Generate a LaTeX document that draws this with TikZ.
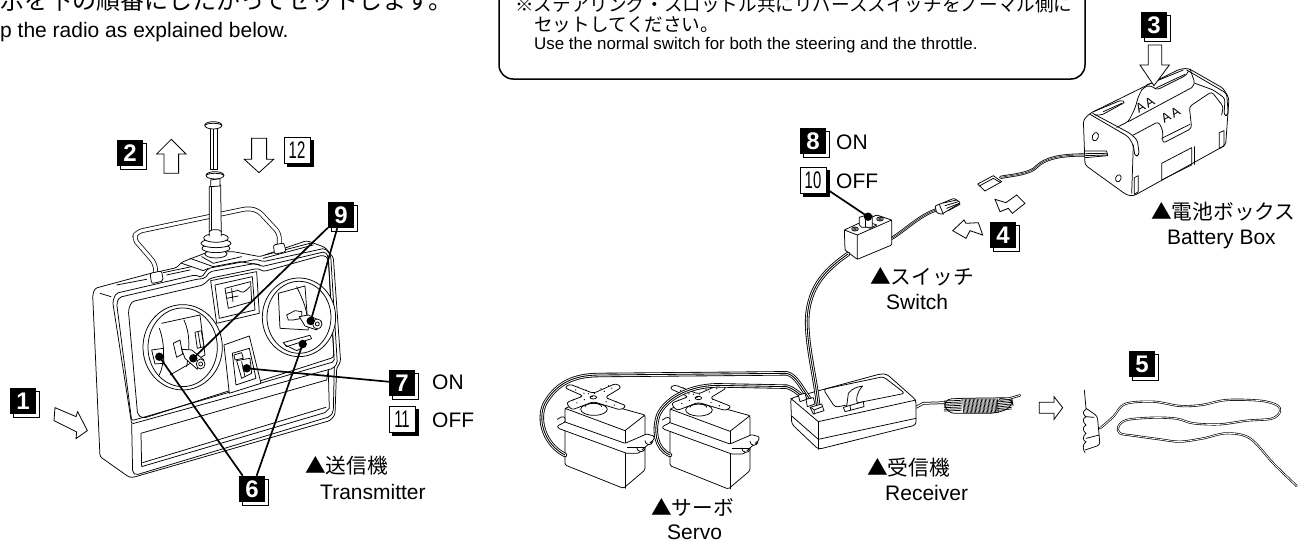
\documentclass[tikz,border=0pt]{standalone}
\usepackage{fontspec}
\usepackage{graphicx}
\setmainfont{Liberation Sans}
\newfontfamily\cjk{Noto Sans CJK JP}
\usetikzlibrary{shadows,calc}
\newcommand{\fsz}[1]{\fontsize{#1}{#1}\selectfont}
\newcommand{\nar}[1]{\scalebox{.62}[1]{#1}}
\tikzset{
 z/.style 2 args={shift={(#1,#2)},x=0.3333pt,y=-0.3333pt},
 ln/.style={line width=.75pt,line join=round,line cap=round},
 fl/.style={ln,fill=white},
 hollow/.style={line width=.8pt,fill=white,line join=miter},
 leader/.style={line width=1.7pt},
 dot/.style={fill=black},
 wire/.style={double=white,double distance=1.5pt,line width=.8pt,line cap=round,postaction={draw,double=none,line width=.5pt}},
 wiret/.style={double=white,double distance=2.7pt,line width=.85pt,line cap=round,postaction={draw,double=none,line width=.85pt}},
 bb/.style={fill=black,text=white,minimum width=26pt,minimum height=26pt,inner sep=0pt,font=\fsz{24}\bfseries,
   copy shadow={fill=white,draw=black,line width=.6pt,shadow xshift=3pt,shadow yshift=-3pt}},
 wb/.style={fill=white,draw=black,line width=.7pt,text=black,minimum width=26pt,minimum height=26pt,inner sep=0pt,font=\fsz{24},
   copy shadow={fill=black,draw=black,shadow xshift=3pt,shadow yshift=-3pt}},
 tx/.style={anchor=base west,inner sep=0pt,font=\fsz{21}},
 jp/.style={anchor=base west,inner sep=0pt,font=\cjk\fsz{20.7}},
 note/.style={line width=1.5pt,rounded corners=14pt,fill=white},
}
\newcommand{\servo}{%
  % body
  \draw[fl,rounded corners=1.5pt] (105,145)--(175,118)--(345,165)--(345,330)--(280,385)--(105,315)--cycle;
  \draw[ln] (105,145)--(285,212)--(345,165);
  \draw[ln] (285,212)--(285,385);
  % flange
  \draw[fl,rounded corners=1pt] (82,178)--(95,170)--(105,172)--(105,186)--(82,198)--(85,205)--(290,280)--(325,280)--(345,262)--(372,238)--(372,228)--(350,222)--(285,250)--(105,186);
  \draw[fl] (320,262) arc (180:20:13) --++(-6,6);
  \draw[fl] (345,242) arc (180:10:12) --++(-6,6);
  \draw[ln] (292,262)--(345,262);
  % shaft
  \draw[fl] (192,148) ellipse [x radius=40,y radius=18];
  \draw[ln] (165,140) arc (180:360:25 and 10);
  % horn
  \draw[fl,rounded corners=3pt] (103,83)--(118,72)--(190,100)--(258,70)--(275,82)--(225,112)--(290,138)--(272,150)--(190,125)--(125,150)--(108,128)--(160,108)--cycle;
  \foreach \t in {.15,.3,.45,.7,.85}{
    \fill ($(112,80)!\t!(278,145)$) circle[radius=2];
    \fill ($(118,138)!\t!(268,75)$) circle[radius=2];
    \fill ($(120,72)!\t!(283,135)$) circle[radius=2];
    \fill ($(108,128)!\t!(258,68)$) circle[radius=2];
  }
  \draw[ln] (190,112) ellipse [x radius=10,y radius=5];
}
\begin{document}
\begin{tikzpicture}[x=1pt,y=-1pt]
\useasboundingbox (0,0) rectangle (1298,541);
\clip (0,0) rectangle (1298,541);
\fill[white] (0,0) rectangle (1298,541);

% ---- top texts
\node[anchor=base west,inner sep=0pt,font=\cjk\fsz{24}] (head) at (0,9) {示を下の順番にしたがってセットします。};
\node[tx] (headen) at (0,37) {p the radio as explained below.};
\draw[note] (499,-30) rectangle (1085,79);
\node[anchor=base west,inner sep=0pt,font=\cjk\fsz{18.6}] (n1) at (515,11) {※ステアリング・スロットル共にリバーススイッチをノーマル側に};
\node[anchor=base west,inner sep=0pt,font=\cjk\fsz{18.6}] (n2) at (534,31) {セットしてください。};
\node[anchor=base west,inner sep=0pt,font=\fsz{16.9}] (n3) at (534,49) {Use the normal switch for both the steering and the throttle.};

% ---- transmitter
\begin{scope}[z={0}{0}]
  % handle
  \draw[ln,double=white,double distance=3.2pt,rounded corners=5pt] (468,825)--(465,790)--(400,715)--(412,695)--(745,625)--(775,632)--(838,700)--(838,738);
  % body
  \draw[fl,rounded corners=2.5pt] (278,885)--(285,865)--(445,822)--(530,803)--(545,787)--(575,775)--(620,758)--(700,755)--(780,770)--(920,722)--(975,742)--(1000,772)--(1022,1085)--(1010,1105)--(1005,1245)--(990,1262)--(400,1432)--(388,1432)--(300,1370)--cycle;
  \draw[ln] (300,880)--(333,890);
  \draw[ln,rounded corners=2pt] (338,905)--(348,880)--(585,825)--(605,832)--(625,805)--(770,778)--(790,785)--(975,745)--(992,765)--(1012,1090)--(1000,1105)--(395,1272)--cycle;
  \draw[ln,rounded corners=2pt] (350,910)--(358,892)--(590,838)--(615,835)--(630,815)--(768,790)--(785,800)--(975,755)--(985,770)--(1003,1085)--(410,1258)--(395,1262)--cycle;
  \draw[ln,rounded corners=3pt] (385,930)--(395,905)--(610,855)--(630,835)--(775,805)--(790,815)--(970,765)--(985,775)--(1002,1072)--(430,1255)--(413,1245)--cycle;
  \draw[ln] (545,790)--(610,812)--(625,805);
  \draw[ln] (570,775)--(640,800)--(720,785)--(780,795);
  \draw[ln] (605,770)--(640,790)--(725,770);
  \draw[ln] (790,775)--(940,735) (795,765)--(930,730);
  \draw[ln] (350,855)--(440,838) (500,825)--(570,810) (490,818)--(575,800);
  % lower panel
  \draw[ln,rounded corners=2pt] (395,1272)--(398,1418)--(408,1425)--(990,1250)--(1000,1235)--(1003,1100);
  \draw[ln] (985,1110)--(988,1225)--(975,1238)--(425,1400)--(423,1300)--(980,1140);
  \draw[ln] (428,1388)--(978,1222);
  \draw[ln] (980,1140)--(985,1110);
  % antenna
  \draw[fl] (648,762) ellipse [x radius=33,y radius=12];
  \draw[fl] (648,745) ellipse [x radius=42,y radius=13];
  \draw[fl] (648,730) ellipse [x radius=45,y radius=13];
  \draw[fl] (648,714) ellipse [x radius=37,y radius=13];
  \draw[fl] (628,708)--(628,560)--(662,555)--(664,708);
  \draw[ln] (628,695) arc (180:360:18 and 6);
  \draw[ln] (634,560)--(634,690);
  \draw[fl] (632,560)--(632,540)--(660,536)--(660,558)--cycle;
  \draw[fl] (645,526) ellipse [x radius=27,y radius=11];
  \draw[ln] (620,526) arc (180:360:25 and 6);
  \draw[fl] (631,385) rectangle (651,508);
  \draw[ln] (640,385)--(640,508);
  \draw[fl] (640,376) ellipse [x radius=26,y radius=11];
  \draw[ln] (616,376) arc (180:360:24 and 6);
  % feet
  \draw[fl,rounded corners=2pt] (450,820)--(485,813)--(490,843)--(455,851)--cycle;
  \draw[fl,rounded corners=2pt] (820,735)--(852,729)--(858,755)--(824,763)--cycle;
  % meter
  \draw[fl] (632,842)--(770,815)--(778,940)--(650,970)--cycle;
  \draw[ln] (645,855)--(757,830)--(765,930)--(658,955)--cycle;
  \draw[ln] (675,865)--(752,845)--(755,905)--(685,925)--cycle;
  \draw[ln] (678,880)--(712,872) (680,895)--(715,888) (695,865)--(699,905);
  \draw[ln] (712,870) .. controls (730,880) .. (750,860);
  % left wheel
  \draw[fl] (548,1042) ellipse [x radius=119,y radius=128];
  \draw[fl] (548,1042) ellipse [x radius=104,y radius=118];
  \draw[ln] (478,985)..controls (495,1030) and (495,1090)..(478,1125);
  \draw[ln] (485,970)--(600,945)--(615,1065)--(510,1125);
  \draw[ln] (552,960)..controls (570,1000) and (570,1040)..(560,1100);
  \draw[ln] (455,1050)--(490,1045)--(492,1090)--(465,1092)--cycle;
  \draw[fl] (585,997)--(604,992)--(612,1040)--(592,1045)--cycle;
  \draw[ln] (594,995)--(602,1042);
  \draw[fl] (520,1030)--(540,1020)--(548,1062)--(530,1072)--cycle;
  \draw[fl] (545,1048)--(575,1050)--(612,1080)--(592,1108)--(555,1075)--cycle;
  \draw[fl] (602,1092) ellipse [x radius=13,y radius=15];
  \draw[ln] (602,1092) circle [radius=6];
  % right wheel
  \draw[fl] (897,952) ellipse [x radius=110,y radius=118];
  \draw[fl] (897,952) ellipse [x radius=96,y radius=108];
  \draw[ln] (835,880)--(915,858)--(925,990) (835,880)--(840,985)--(925,990);
  \draw[ln] (890,860)..controls (910,900) and (925,940)..(920,960);
  \draw[fl] (850,1028)--(930,1006)--(935,1016)--(860,1040)--cycle;
  \draw[ln] (855,1035)--(890,1052)--(915,1040);
  \draw[fl] (860,945)--(885,932)--(905,935)--(905,955)--(880,960)--(865,960)--cycle;
  \draw[fl] (898,950)--(925,945)--(965,965)--(950,990)--(915,978)--cycle;
  \draw[fl] (952,972) ellipse [x radius=14,y radius=15];
  \draw[ln] (952,972) circle [radius=6];
  % switch
  \draw[fl] (672,1035)--(748,1008)--(783,1150)--(688,1180)--cycle;
  \draw[ln] (697,1060)--(748,1045)--(768,1135)--(708,1155)--cycle;
  \draw[fl] (702,1065)--(725,1058)--(730,1075)--(705,1080)--cycle;
  \draw[fl] (710,1082)--(750,1075)--(755,1120)--(725,1135)--cycle;
  \draw[ln] (725,1085)--(735,1130);
  % arrows
  \draw[hollow] (514,418)--(558,462)--(536,462)--(536,520)--(492,520)--(492,462)--(470,462)--cycle;
  \draw[hollow] (777,518)--(733,478)--(755,478)--(755,415)--(800,415)--(800,478)--(821,478)--cycle;
  \draw[hollow] (165,1223)--(228,1250)--(233,1235)--(262,1292)--(228,1316)--(230,1296)--(162,1262)--cycle;
\end{scope}

% ---- battery box wire and plug
\begin{scope}[z={930}{60}]
  \draw[wire] (530,285)--(460,285)..controls (390,285) and (345,295)..(320,320)..controls (300,342) and (250,345)..(212,352);
  \draw[fl] (143,372)--(190,347)--(215,365)--(165,393)--cycle;
  \draw[ln] (148,378)--(190,355)--(212,368);
\end{scope}
\begin{scope}[z={1080}{65}]
  \draw[fl,rounded corners=3pt] (10,165)--(30,145)--(300,12)--(325,10)--(430,70)--(447,100)--(437,240)--(160,393)--(140,390)--(15,300)--cycle;
  \draw[ln,rounded corners=3pt] (30,148)--(145,215)--(160,240)--(155,385);
  \draw[ln,rounded corners=3pt] (38,145)--(150,205)--(172,225)--(178,270)--(165,275)--(160,240);
  \draw[ln,rounded corners=2pt] (40,140)--(125,105)--(135,112)--(65,150)--(45,150);
  \draw[ln] (70,140)--(125,115);
  \draw[ln,rounded corners=3pt] (185,75)--(200,62)--(220,65)--(230,75)--(320,30)--(325,18);
  \draw[ln] (200,60)--(310,15) (230,68)--(315,28);
  \draw[ln,rounded corners=3pt] (110,187)--(145,170)--(165,130)--(175,95)--(185,75);
  \draw[ln] (145,170)--(335,68);
  \draw[ln,rounded corners=3pt] (160,210)--(235,170)--(248,195)--(248,235)--(335,190)--(328,125)--(395,80)--(430,125)--(425,150);
  \draw[ln] (245,220)--(330,178);
  \draw[ln,rounded corners=3pt] (330,12)--(345,55)--(335,68);
  \draw[ln,rounded corners=3pt] (320,15)--(440,85)--(445,150)--(432,153)--(435,100)--(400,75)--(345,55);
  \draw[ln] (245,295)--(335,248)--(335,300)--(245,345)--cycle;
  \draw[ln] (342,245)--(342,298);
  \draw[ln] (418,203)--(432,197)--(432,243)--(418,250)--cycle;
  \draw[ln] (163,338)--(175,332)--(175,380)--(163,388)--cycle;
  \draw[ln,rotate around={-20:(46,215)}] (46,215) ellipse [x radius=9,y radius=13];
  \draw[ln,rotate around={-20:(115,340)}] (115,340) ellipse [x radius=8,y radius=11];
  \node[rotate=30,inner sep=0pt,font=\fsz{13}] (aa1) at (195,120) {A\,A};
  \node[rotate=30,inner sep=0pt,font=\fsz{13}] (aa2) at (272,150) {A\,A};
  \draw[fl] (16,258)--(80,258)--(83,272)--(16,278);
  \draw[ln] (16,266)--(82,265) (16,272)--(82,270);
\end{scope}
\begin{scope}[z={930}{60}]
  \draw[hollow] (672,77)--(630,15)--(655,15)--(655,-45)--(695,-45)--(695,15)--(718,15)--cycle;
\end{scope}

% ---- switch
\begin{scope}[z={780}{170}]
  \draw[wire] (335,205)..controls (370,185) and (420,135)..(468,120);
  \draw[fl,rounded corners=1pt] (465,108)--(522,85)--(542,98)--(485,133)--(470,128)--cycle;
  \draw[ln] (478,103)--(490,133) (490,99)--(530,90) (495,107)--(535,95) (500,115)--(538,100) (505,122)--(540,103);
  \draw[fl,rounded corners=1pt] (193,180)--(290,135)--(335,150)--(335,225)--(232,268)--(195,240)--cycle;
  \draw[ln] (193,180)--(232,195)--(335,150) (232,195)--(232,268);
  \draw[ln] (225,177) ellipse [x radius=10,y radius=6];
  \draw[ln] (225,177) circle[radius=4];
  \draw[ln] (300,147) ellipse [x radius=10,y radius=6];
  \draw[ln] (300,147) circle[radius=4];
  \draw[ln] (240,165)--(270,175)--(290,165)--(262,155);
  \draw[fl] (238,142)--(270,132)--(277,138)--(277,172)--(245,172)--(238,165)--cycle;
  \draw[ln] (255,140)--(255,170);
\end{scope}
% ---- arrows at 4
\begin{scope}[z={950}{190}]
  \draw[hollow] (135,28)--(168,38)--(200,15)--(225,40)--(187,70)--(175,55)--(150,65)--cycle;
  \draw[hollow] (8,122)--(42,90)--(48,100)--(85,98)--(98,135)--(60,122)--(48,145)--cycle;
\end{scope}

% ---- servos
\begin{scope}[z={530}{360}]
  \begin{scope}\servo\end{scope}
  \begin{scope}[shift={(315,2)}]\servo\end{scope}
\end{scope}

% ---- receiver
\begin{scope}[z={780}{350}]
  \draw[ln,double=white,double distance=1.2pt] (408,172)--(430,160)--(495,158);
  \draw[fl,rounded corners=3pt] (32,145)--(300,72)--(320,72)--(408,150)--(408,225)--(115,298)--(35,222)--cycle;
  \draw[ln] (32,145)--(115,215)--(408,150);
  \draw[ln] (115,215)--(115,298);
  \draw[ln] (35,198)--(115,268)--(408,205);
  \draw[ln,rounded corners=3pt] (130,118)--(310,80)--(375,130)--(165,172)--cycle;
  \draw[fl] (200,170)--(205,130)..controls (215,115) and (235,110)..(248,108)..controls (232,125) and (225,145)..(235,170);
  \draw[fl] (190,172)--(250,155)--(252,170)--(195,185)--cycle;
  \draw[ln] (210,165)--(212,180);
  % coil
  \draw[fl,rounded corners=8pt] (490,148)--(540,145)--(695,143)--(700,170)--(650,190)--(500,190)--cycle;
  \foreach \y in {153,158,...,187}{\draw[line width=.7pt] (492,\y)--(545,\y-2);\draw[line width=.7pt] (650,\y-2)--(695,\y-6);}
  \foreach \x in {548,552,...,652}{\draw[line width=.6pt] (\x,146)--(\x+3,189);}
  \draw[ln,double=white,double distance=.8pt] (660,148)--(690,145)--(720,136);
\end{scope}

% ---- long wires
\draw[wiret] (848,254)..controls (825,270) and (812,285)..(808,310)..controls (804,335) and (815,375)..(818,404);
\begin{scope}[z={530}{360}]
  \draw[wiret] (420,285)..controls (375,265) and (370,210)..(385,165)..controls (405,120) and (470,78)..(560,76)--(770,80)..controls (790,85) and (805,100)..(820,112);
  \draw[wiret] (105,285)..controls (45,255) and (20,180)..(45,130)..controls (80,70) and (130,45)..(210,45)--(770,40)..controls (800,45) and (820,95)..(843,122);
\end{scope}
\begin{scope}[z={780}{350}]
  \draw[fl] (55,135)--(75,130)--(80,148)--(60,155)--cycle;
  \draw[fl] (78,148)--(100,143)--(105,162)--(82,170)--cycle;
  \draw[fl] (90,172)--(125,162)--(132,182)--(100,192)--cycle;
  \draw[ln] (92,172)--(103,180)--(127,170) (103,180)--(103,192);
\end{scope}

% ---- hand and antenna
\begin{scope}[z={1020}{370}]
  \draw[hollow] (58,97)--(102,97)--(102,80)--(128,113)--(102,148)--(102,130)--(58,130)--cycle;
  \draw[ln] (193,60)--(198,115);
  \draw[ln,rounded corners=3pt] (198,115)--(232,138)--(240,225)--(195,240);
  \draw[ln] (198,118)..controls (185,125) and (190,135)..(198,140)..controls (185,145) and (190,160)..(198,165)..controls (185,172) and (190,185)..(198,190)..controls (185,200) and (190,215)..(198,215)..controls (185,225) and (190,240)..(195,248);
  \draw[ln] (198,140)--(222,142) (198,205)--(238,195);
  \draw[line width=.65pt,double=white,double distance=.8pt,line cap=round] plot[smooth,tension=.55] coordinates {(240,175) (280,140) (315,102) (400,95) (480,108) (545,105) (620,90) (720,92) (770,105) (780,125) (755,146) (680,152) (600,163) (520,160) (470,146) (400,143) (320,150) (295,170) (300,190) (340,197) (420,208) (480,215) (550,205) (620,190) (690,205) (760,280) (830,348)};
\end{scope}

% ---- text labels
\node[tx] (on1) at (432,389) {ON};
\node[tx] (off1) at (432,427) {OFF};
\node[jp] (t1) at (305,473) {▲送信機};
\node[tx] (t2) at (320,499) {Transmitter};
\node[tx] (on2) at (836,149) {ON};
\node[tx] (off2) at (836,188) {OFF};
\node[jp] (b1) at (1151,219) {▲電池ボックス};
\node[tx] (b2) at (1167,244) {Battery Box};
\node[jp] (s1) at (870,284) {▲スイッチ};
\node[tx] (s2) at (886,309) {Switch};
\node[jp] (r1) at (867,475) {▲受信機};
\node[tx] (r2) at (885,500) {Receiver};
\node[jp] (v1) at (651,515) {▲サーボ};
\node[tx] (v2) at (667,539.5) {Servo};

% ---- badges and leaders
\node[bb] (b1x) at (23,401) {1};
\node[bb] (b2x) at (130,153) {2};
\node[bb] (b3x) at (1154,25) {3};
\node[bb] (b4x) at (1003,235) {4};
\node[bb] (b5x) at (1142,364) {5};
\node[bb] (b6x) at (252,489) {6};
\node[bb] (b7x) at (402,383) {7};
\node[bb] (b8x) at (813,141) {8};
\node[bb] (b9x) at (341,215) {9};
\node[wb] (b10x) at (813,180) {\nar{10}};
\node[wb] (b11x) at (402,419) {\nar{11}};
\node[wb] (b12x) at (297,150) {\nar{12}};
\coordinate (d9a) at (193.3,358.3);
\coordinate (d9b) at (310.7,321);
\coordinate (d6a) at (159.3,356.7);
\coordinate (d6b) at (302.7,344);
\coordinate (d7) at (246.7,368.3);
\coordinate (d10) at (868,216.7);
\foreach \p in {d9a,d9b,d6a,d6b,d7,d10}{\fill[dot] (\p) circle[radius=4.2];}
\draw[leader] (b9x) -- (d9a);
\draw[leader] (b9x) -- (d9b);
\draw[leader] (b6x) -- (d6a);
\draw[leader] (b6x) -- (d6b);
\draw[leader] (b7x) -- (d7);
\draw[leader] (b10x) -- (d10);
\end{tikzpicture}
\end{document}
